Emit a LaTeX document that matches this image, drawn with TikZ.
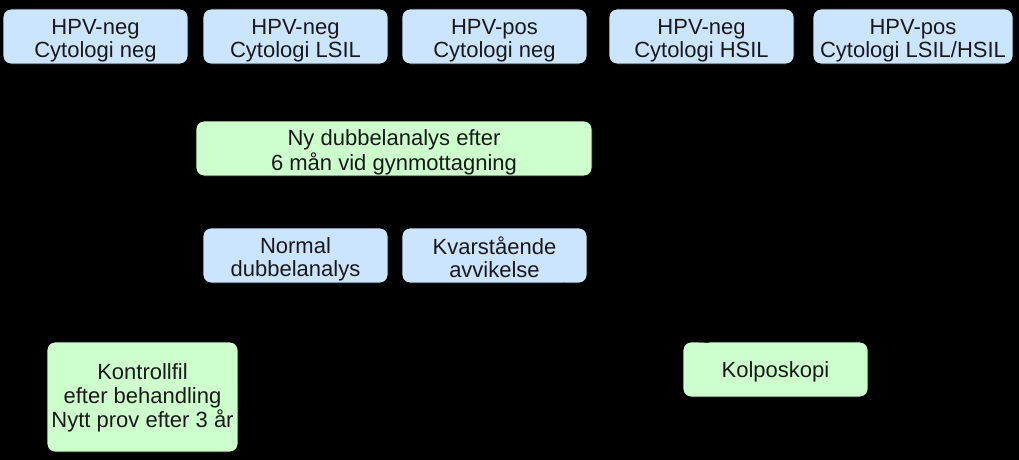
\documentclass[tikz,border=0pt]{standalone}
\usepackage{fontspec}
\setmainfont{Liberation Sans}
\usetikzlibrary{arrows.meta}
\definecolor{boxblue}{HTML}{CCE5FF}
\definecolor{boxgreen}{HTML}{CCFFCC}
\newcommand{\lowtext}[2]{\raisebox{-#1}[\height][\depth]{\begin{tabular}{@{}c@{}}#2\end{tabular}}}
\tikzset{
  box/.style={draw=black, line width=0.8pt, rounded corners=8pt, align=center,
    minimum width=185pt, minimum height=55pt, inner sep=0pt,
    font=\fontsize{22}{23.5}\selectfont, text=black!90},
  bluebox/.style={box, fill=boxblue},
  greenbox/.style={box, fill=boxgreen},
  conn/.style={draw=black, line width=1.5pt, -{Stealth[length=10pt,width=7pt]}}
}
\begin{document}
\begin{tikzpicture}[x=1pt,y=-1pt]
\fill[black] (0,0) rectangle (1019,460);
\useasboundingbox (0,0) rectangle (1019,460);
\node[bluebox] (a1) at (95.5,36.5) {\lowtext{5pt}{HPV-neg\\Cytologi neg}};
\node[bluebox] (a2) at (295.5,36.5) {\lowtext{5pt}{HPV-neg\\Cytologi LSIL}};
\node[bluebox] (a3) at (494.5,36.5) {\lowtext{5pt}{HPV-pos\\Cytologi neg}};
\node[bluebox] (a4) at (701.5,36.5) {\lowtext{5pt}{HPV-neg\\Cytologi HSIL}};
\node[bluebox, minimum width=200pt] (a5) at (913,36.5) {\lowtext{5pt}{HPV-pos\\Cytologi LSIL/HSIL}};
\node[greenbox, minimum width=396pt] (ny) at (394,148.5) {\lowtext{5pt}{Ny dubbelanalys efter\\6 mån vid gynmottagning}};
\node[bluebox] (norm) at (295.5,255.5) {\lowtext{5pt}{Normal\\dubbelanalys}};
\node[bluebox] (kvar) at (494.5,255.5) {\lowtext{5pt}{Kvarstående\\avvikelse}};
\node[greenbox, minimum width=191pt, minimum height=110pt] (kontroll) at (142.5,397) {\lowtext{2pt}{Kontrollfil\\efter behandling\\Nytt prov efter 3 år}};
\node[greenbox] (kolpo) at (775.5,369.5) {\lowtext{3pt}{Kolposkopi}};
\draw[conn, shorten >=-3pt] (kvar) -- (kolpo);
\end{tikzpicture}
\end{document}
